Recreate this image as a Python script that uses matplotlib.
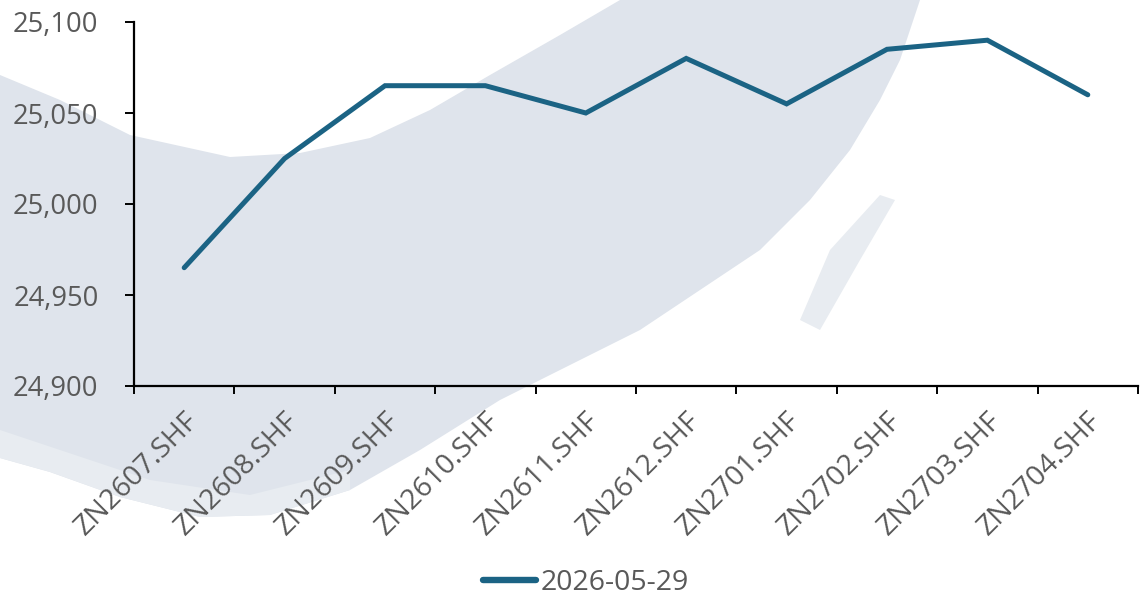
import numpy as np
import matplotlib
matplotlib.use("Agg")
import matplotlib.pyplot as plt
from matplotlib.lines import Line2D

plt.rcParams['font.family'] = ['Open Sans', 'DejaVu Sans']

# zinc futures curve
contracts = ["ZN2607.SHF", "ZN2608.SHF", "ZN2609.SHF", "ZN2610.SHF", "ZN2611.SHF",
             "ZN2612.SHF", "ZN2701.SHF", "ZN2702.SHF", "ZN2703.SHF", "ZN2704.SHF"]
prices = [24965, 25025, 25065, 25065, 25050, 25080, 25055, 25085, 25090, 25060]
series_name = "2026-05-29"
y_ticks = [24900, 24950, 25000, 25050, 25100]

LINE_COLOR = "#1b6384"
TEXT_COLOR = "#595959"

W, H = 1140, 596
fig = plt.figure(figsize=(W / 100, H / 100), dpi=100)

# faint brush-stroke backdrop, drawn in pixel space on a full-figure axes
bg = fig.add_axes([0, 0, 1, 1], zorder=-1)
bg.set_xlim(0, W)
bg.set_ylim(H, 0)
bg.axis("off")
outer = [(620, 0), (920, 0), (900, 60), (880, 100), (850, 150), (810, 200), (760, 250),
         (700, 290), (640, 330), (580, 360), (500, 400), (420, 450), (350, 490),
         (270, 515), (200, 517), (120, 497), (50, 472), (0, 458)]
inner = [(0, 75), (60, 100), (130, 135), (230, 157), (300, 153), (370, 138),
         (430, 110), (490, 75), (560, 35)]
stroke = np.array(outer + inner, dtype=float)
bg.fill(stroke[:, 0], stroke[:, 1], color="#dfe4ec", lw=0)
# lighter feathered edge along the bottom of the stroke
low = np.array([(0, 430), (60, 450), (150, 480), (250, 495), (350, 470), (350, 490),
                (270, 515), (200, 517), (120, 497), (50, 472), (0, 458)], dtype=float)
bg.fill(low[:, 0], low[:, 1], color="#e8ecf1", lw=0)
streak = np.array([(830, 250), (880, 195), (895, 200), (860, 260), (820, 330), (800, 320)],
                  dtype=float)
bg.fill(streak[:, 0], streak[:, 1], color="#e8ecf1", lw=0)

ax = fig.add_axes([134 / W, 1 - 386 / H, (1138 - 134) / W, (386 - 22) / H])
ax.patch.set_visible(False)

x = np.arange(len(contracts))
ax.plot(x, prices, color=LINE_COLOR, lw=3.6, solid_capstyle="round",
        solid_joinstyle="miter")

ax.set_xlim(-0.5, len(contracts) - 0.5)
ax.set_ylim(24900, 25100)
ax.set_yticks(y_ticks)
ax.set_yticklabels([f"{v:,}" for v in y_ticks])

# category ticks sit on the boundaries, labels at the centers
ax.set_xticks(np.arange(len(contracts) + 1) - 0.5)
ax.set_xticklabels([])
ax.set_xticks(x, minor=True)
ax.set_xticklabels(contracts, minor=True, rotation=45, ha="right",
                   rotation_mode="anchor")
ax.tick_params(axis="x", which="minor", length=0, pad=15, labelsize=20.5)
ax.tick_params(axis="x", which="major", length=5.5, width=1.4, color="black")
ax.tick_params(axis="y", length=6.5, width=1.4, color="black", pad=19, labelsize=19.7)
ax.tick_params(axis="both", which="both", labelcolor=TEXT_COLOR)

for side in ["top", "right"]:
    ax.spines[side].set_visible(False)
for side in ["left", "bottom"]:
    ax.spines[side].set_linewidth(1.6)
    ax.spines[side].set_color("black")

handle = Line2D([], [], color=LINE_COLOR, lw=4.6, solid_capstyle="round")
fig.legend([handle], [series_name], loc="center", bbox_to_anchor=(0.5 + 16 / W, 1 - 583 / H),
           frameon=False, fontsize=20.5, labelcolor=TEXT_COLOR, handlelength=1.85,
           handletextpad=0.15)

fig.savefig("out.png", dpi=100)
